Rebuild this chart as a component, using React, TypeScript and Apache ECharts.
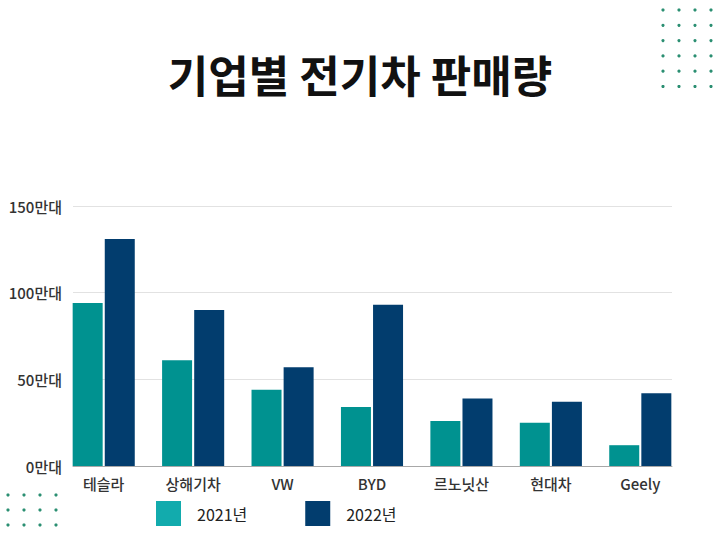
import React, { useEffect, useRef } from "react";
import * as echarts from "echarts";

const categories = ["테슬라", "상해기차", "VW", "BYD", "르노닛산", "현대차", "Geely"];
const sales2021 = [94, 61, 44, 34, 26, 25, 12];
const sales2022 = [131, 90, 57, 93, 39, 37, 42];
const seriesNames = ["2021년", "2022년"];
const yTicks = { min: 0, max: 150, interval: 50 };

const FONT = '"Noto Sans CJK KR", "Noto Sans", sans-serif';

export default function App() {
  const ref = useRef<HTMLDivElement>(null);

  useEffect(() => {
    document.body.style.margin = "0";
    if (!ref.current) return;
    const chart = echarts.init(ref.current, undefined, { renderer: "svg" });

    const dots: any[] = [];
    for (let r = 0; r < 6; r++) {
      for (let c = 0; c < 4; c++) {
        dots.push({
          type: "circle",
          shape: { cx: 663 + c * 16, cy: 10 + r * 15.3, r: 1.6 },
          style: { fill: "#2b8f72" },
          silent: true,
        });
      }
    }
    for (let r = 0; r < 3; r++) {
      for (let c = 0; c < 4; c++) {
        dots.push({
          type: "circle",
          shape: { cx: 8 + c * 16, cy: 495 + r * 15, r: 1.6 },
          style: { fill: "#2b8f72" },
          silent: true,
        });
      }
    }

    chart.setOption({
      animation: false,
      backgroundColor: "#ffffff",
      textStyle: { fontFamily: FONT },
      title: {
        text: "기업별 전기차 판매량",
        left: "center",
        top: 47,
        textStyle: { fontSize: 44, fontWeight: "bold", color: "#111", fontFamily: FONT },
      },
      legend: {
        left: 151,
        top: 496,
        itemWidth: 25,
        itemHeight: 25,
        itemGap: 58,
        icon: "rect",
        textStyle: { fontSize: 16, color: "#222", padding: [0, 0, 0, 11], fontFamily: FONT },
        data: [
          { name: seriesNames[0], itemStyle: { color: "#12abad" } },
          { name: seriesNames[1], itemStyle: { color: "#023d6e" } },
        ],
      },
      graphic: dots,
      grid: [
        { left: 59, right: 35, top: 206, bottom: 68 },
        { left: 73, right: 48, top: 206, bottom: 68 },
      ],
      xAxis: [
        {
          type: "category",
          gridIndex: 0,
          data: categories,
          axisLine: { show: false },
          axisTick: { show: false },
          axisLabel: { fontSize: 15, fontWeight: 500, color: "#333", margin: 10, fontFamily: FONT },
        },
        {
          type: "value",
          gridIndex: 1,
          min: 0,
          max: 1,
          axisLine: { show: true, lineStyle: { color: "#a8a8a8", width: 1 } },
          axisTick: { show: false },
          axisLabel: { show: false },
          splitLine: { show: false },
        },
      ],
      yAxis: [
        {
          type: "value",
          gridIndex: 0,
          min: yTicks.min,
          max: yTicks.max,
          interval: yTicks.interval,
          show: false,
        },
        {
          type: "value",
          gridIndex: 1,
          min: yTicks.min,
          max: yTicks.max,
          interval: yTicks.interval,
          axisLine: { show: false },
          axisTick: { show: false },
          axisLabel: { formatter: "{value}만대", fontSize: 15, fontWeight: 500, color: "#333", margin: 11, fontFamily: FONT },
          splitLine: { lineStyle: { color: "#e2e2e2", width: 1 } },
        },
      ],
      series: [
        {
          name: seriesNames[0],
          type: "bar",
          xAxisIndex: 0,
          yAxisIndex: 0,
          data: sales2021,
          barWidth: 30,
          barGap: "7%",
          itemStyle: { color: "#009290" },
        },
        {
          name: seriesNames[1],
          type: "bar",
          xAxisIndex: 0,
          yAxisIndex: 0,
          data: sales2022,
          barWidth: 30,
          barGap: "7%",
          itemStyle: { color: "#023d6e" },
        },
      ],
    });

    return () => chart.dispose();
  }, []);

  return <div ref={ref} style={{ width: 720, height: 534 }} />;
}
